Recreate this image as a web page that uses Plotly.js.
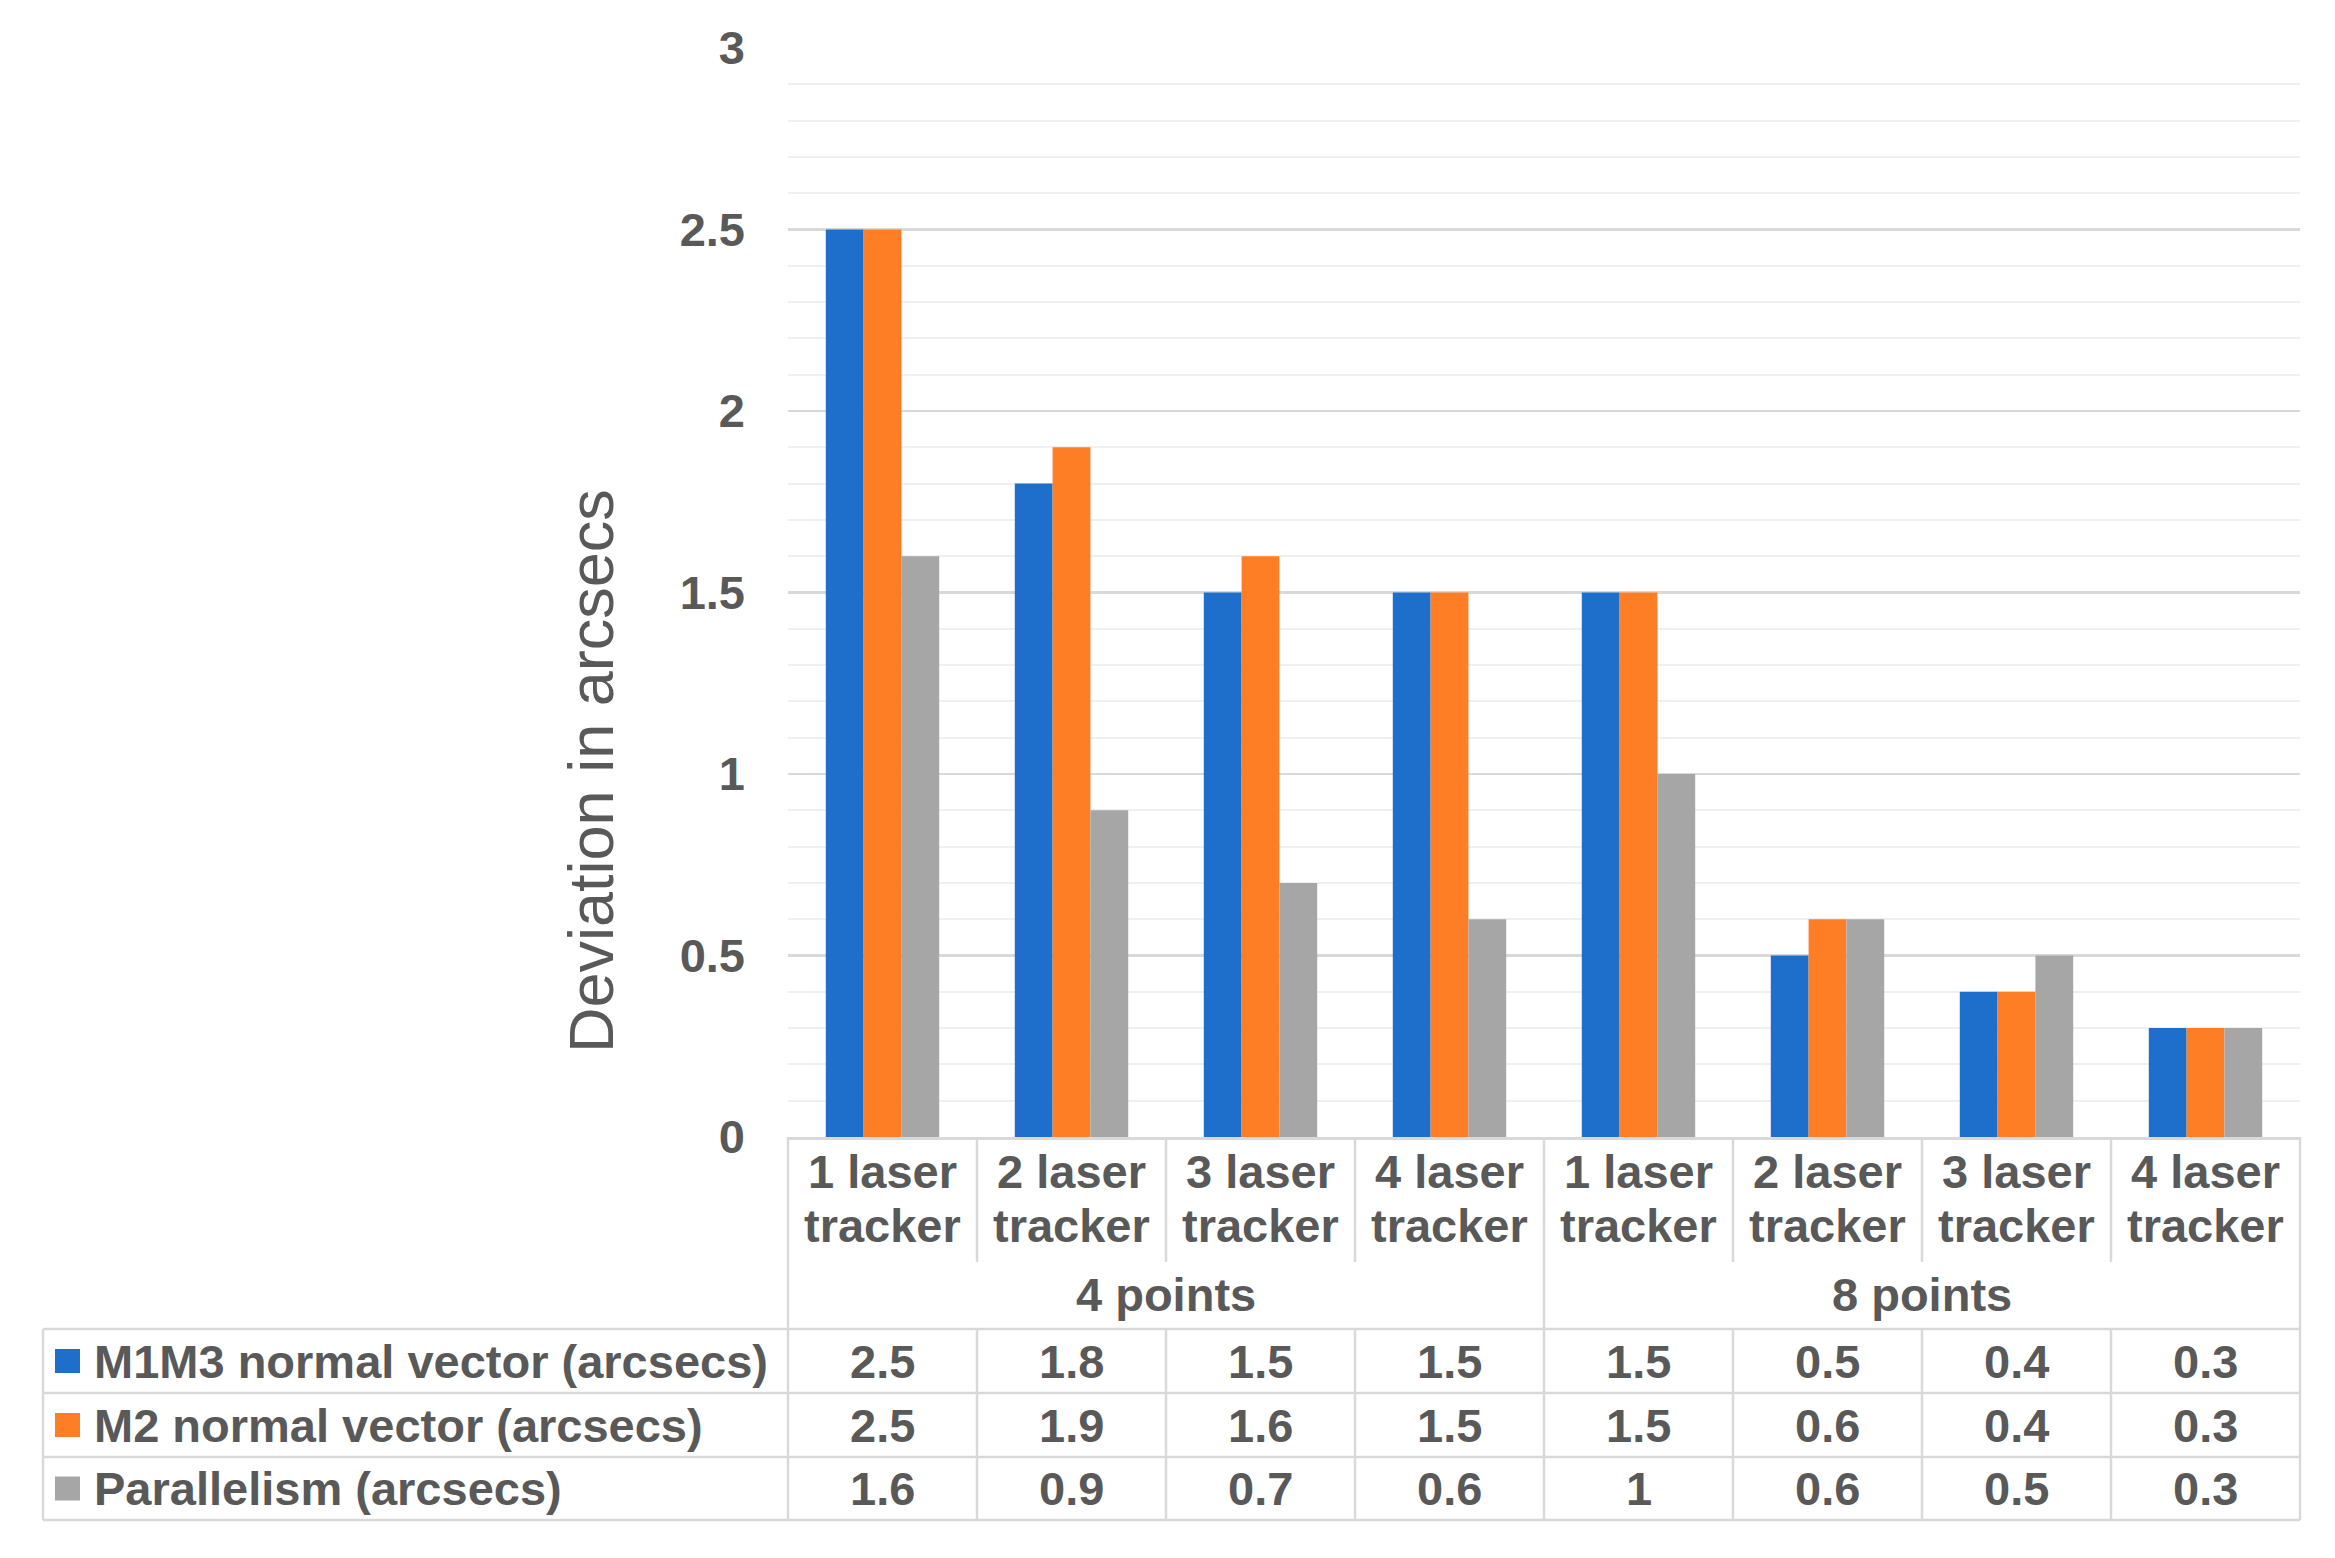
<!DOCTYPE html>
<html>
<head>
<meta charset="utf-8">
<script src="https://cdn.plot.ly/plotly-3.0.1.min.js"></script>
<style>
html,body{margin:0;padding:0;background:#fff;}
#chart{width:2335px;height:1558px;}
</style>
</head>
<body>
<div id="chart"></div>
<script>
// ---- data ----
const trackerLine1 = ['1 laser','2 laser','3 laser','4 laser','1 laser','2 laser','3 laser','4 laser'];
const trackerLine2 = ['tracker','tracker','tracker','tracker','tracker','tracker','tracker','tracker'];
const groups = ['4 points','8 points'];
const groupSize = 4;
const seriesNames = ['M1M3 normal vector (arcsecs)','M2 normal vector (arcsecs)','Parallelism (arcsecs)'];
const m1m3 = [2.5, 1.8, 1.5, 1.5, 1.5, 0.5, 0.4, 0.3];
const m2 = [2.5, 1.9, 1.6, 1.5, 1.5, 0.6, 0.4, 0.3];
const parallelism = [1.6, 0.9, 0.7, 0.6, 1, 0.6, 0.5, 0.3];
const yTickVals = [0, 0.5, 1, 1.5, 2, 2.5, 3];
const yTickText = ['0', '0.5', '1', '1.5', '2', '2.5', '3'];
const yTitle = 'Deviation in arcsecs';

// ---- layout geometry (pixels) ----
const W = 2335, H = 1558;
const PL = 788, PR = 2300, PT = 48, PB = 1137;
const colors = ['#1e6fcc', '#fd7e24', '#a6a6a6'];
const txt = '#595959';
const lineCol = '#d9d9d9';
const FONT = 'Liberation Sans, Arial, sans-serif';
const px2x = p => (p - PL) / (PR - PL);
const px2y = p => (PB - p) / (PB - PT);

const series = [m1m3, m2, parallelism];
const xs = m1m3.map((_, i) => i);

const traces = series.map((vals, k) => ({
  type: 'bar',
  x: xs,
  y: vals,
  name: seriesNames[k],
  marker: {color: colors[k], line: {width: 0}},
  hoverinfo: 'skip'
}));

const annotations = [];
const shapes = [];
const boldFont = {family: FONT, size: 47, color: txt, weight: 700};

// category header lines
xs.forEach(i => {
  annotations.push({x: i, xref: 'x', y: px2y(1171), yref: 'paper', text: trackerLine1[i],
    showarrow: false, font: boldFont, xanchor: 'center', yanchor: 'middle'});
  annotations.push({x: i, xref: 'x', y: px2y(1225), yref: 'paper', text: trackerLine2[i],
    showarrow: false, font: boldFont, xanchor: 'center', yanchor: 'middle'});
});
// group labels
groups.forEach((g, gi) => {
  annotations.push({x: gi * groupSize + (groupSize - 1) / 2, xref: 'x', y: px2y(1294), yref: 'paper',
    text: g, showarrow: false, font: boldFont, xanchor: 'center', yanchor: 'middle'});
});
// data rows
const rowLines = [1329, 1393, 1457, 1520];
series.forEach((vals, k) => {
  const yc = (rowLines[k] + rowLines[k + 1]) / 2;
  vals.forEach((v, i) => {
    annotations.push({x: i, xref: 'x', y: px2y(yc), yref: 'paper', text: String(v),
      showarrow: false, font: boldFont, xanchor: 'center', yanchor: 'middle'});
  });
  annotations.push({x: px2x(92), xref: 'paper', y: px2y(yc), yref: 'paper', text: seriesNames[k],
    showarrow: false, font: boldFont, xanchor: 'left', yanchor: 'middle'});
  shapes.push({type: 'rect', xref: 'paper', yref: 'paper',
    x0: px2x(55), x1: px2x(80), y0: px2y(yc - 12), y1: px2y(yc + 12),
    fillcolor: colors[k], line: {width: 0}});
});
// y title
annotations.push({x: px2x(591), xref: 'paper', y: px2y(771), yref: 'paper', text: yTitle,
  textangle: -90, showarrow: false, font: {family: FONT, size: 63, color: txt},
  xanchor: 'center', yanchor: 'middle'});

// table lines
const LW = 2.5;
const hl = (y, x0p, x1p) => shapes.push({type: 'line', xref: 'paper', yref: 'paper',
  x0: px2x(x0p), x1: px2x(x1p), y0: px2y(y), y1: px2y(y), line: {color: lineCol, width: LW}});
const vlPaper = (xp, y0, y1) => shapes.push({type: 'line', xref: 'paper', yref: 'paper',
  x0: px2x(xp), x1: px2x(xp), y0: px2y(y0), y1: px2y(y1), line: {color: lineCol, width: LW}});
const vlX = (xv, y0, y1) => shapes.push({type: 'line', xref: 'x', yref: 'paper',
  x0: xv, x1: xv, y0: px2y(y0), y1: px2y(y1), line: {color: lineCol, width: LW}});

const tTop = rowLines[0], tBot = rowLines[rowLines.length - 1];
rowLines.forEach(y => hl(y, 43, PR));
vlPaper(43, tTop, tBot);
vlPaper(PL, PB, tBot);
vlPaper(PR, PB, tBot);
for (let i = 0; i < xs.length - 1; i++) {
  const b = i + 0.5;
  if ((i + 1) % groupSize === 0) {
    vlX(b, PB, tBot);
  } else {
    vlX(b, PB, 1262);
    vlX(b, tTop, tBot);
  }
}

const layout = {
  width: W, height: H,
  margin: {l: PL, r: W - PR, t: PT, b: H - PB, pad: 0},
  paper_bgcolor: '#fff', plot_bgcolor: '#fff',
  barmode: 'group', bargap: 0.4, bargroupgap: 0,
  showlegend: false,
  font: {family: FONT, color: txt},
  xaxis: {range: [-0.5, xs.length - 0.5], showticklabels: false, ticks: '',
    showgrid: false, zeroline: false, showline: true, linecolor: lineCol, linewidth: LW, fixedrange: true},
  yaxis: {range: [0, 3], tickvals: yTickVals, ticktext: yTickText, ticks: '',
    showgrid: true, gridcolor: '#d9d9d9', gridwidth: 2.5, zeroline: false, showline: false,
    ticklabelstandoff: 42,
    tickfont: {family: FONT, size: 47, color: txt, weight: 700},
    minor: {dtick: 0.1, showgrid: true, gridcolor: '#f0f0f0', gridwidth: 2, ticks: ''},
    fixedrange: true},
  annotations: annotations,
  shapes: shapes
};

Plotly.newPlot('chart', traces, layout, {displayModeBar: false, staticPlot: true});
</script>
</body>
</html>
